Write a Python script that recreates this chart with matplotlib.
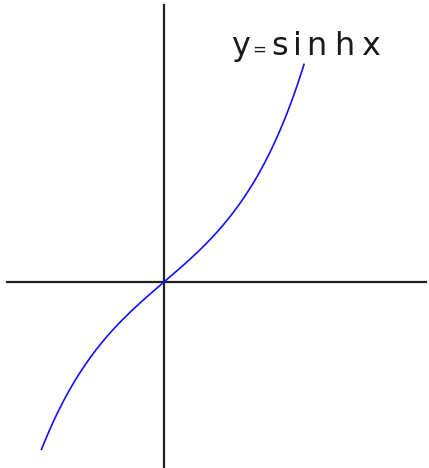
import numpy as np
import matplotlib
matplotlib.use('Agg')
import matplotlib.pyplot as plt

# Kurva y = sinh x, rentang x yang terlihat
x_start = -1.75
x_end = 2.0
n_points = 200

# Label dan posisi tengah huruf (pixel, dari kiri)
label_chars = ['y', '=', 's', 'i', 'n', 'h', 'x']
label_center_px = [241, 259.5, 279.5, 297.5, 316, 344, 371]
label_sizes = [23, 12, 23, 23, 23, 23, 23]

W, H = 429, 468
fig = plt.figure(figsize=(W / 100, H / 100), dpi=100)
ax = fig.add_axes([0, 0, 1, 1])

# skala: 70 px per unit x, 60 px per unit y, titik asal di (164, 282)
ax.set_xlim(-164 / 70, (W - 164) / 70)
ax.set_ylim(-(H - 282) / 60, 282 / 60)
ax.axis('off')

# sumbu
ax.axhline(0, xmin=7 / W, xmax=426 / W, color='#222222', lw=1.6)
ax.axvline(0, ymin=0, ymax=(H - 5) / H, color='#222222', lw=1.6)

x = np.linspace(x_start, x_end, n_points)
y = np.sinh(x)
ax.plot(x, y, color='#1010ff', lw=1.2)

for ch, cx, size in zip(label_chars, label_center_px, label_sizes):
    fig.text(cx / W, 1 - 55 / H, ch, fontsize=size, family='DejaVu Sans',
             color='#1a1a1a', ha='center', va='baseline')

plt.savefig('out.png', dpi=100, facecolor='white')
